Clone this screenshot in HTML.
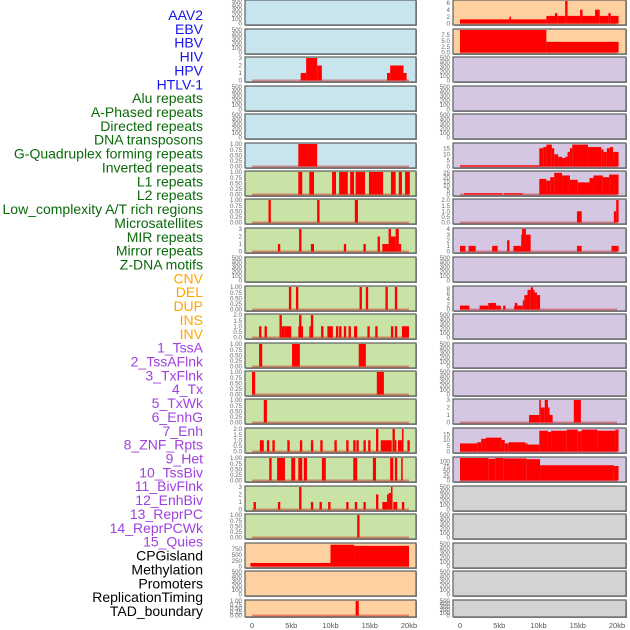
<!DOCTYPE html>
<html><head><meta charset="utf-8">
<style>
html,body{margin:0;padding:0;background:#fff;}
svg{display:block;font-family:"Liberation Sans",sans-serif;}
</style></head>
<body>
<svg id="chart" width="630" height="630" viewBox="0 0 630 630" xmlns="http://www.w3.org/2000/svg"></svg>
<script>
const labels = ["AAV2","EBV","HBV","HIV","HPV","HTLV-1","Alu repeats","A-Phased repeats","Directed repeats","DNA transposons","G-Quadruplex forming repeats","Inverted repeats","L1 repeats","L2 repeats","Low_complexity A/T rich regions","Microsatellites","MIR repeats","Mirror repeats","Z-DNA motifs","CNV","DEL","DUP","INS","INV","1_TssA","2_TssAFlnk","3_TxFlnk","4_Tx","5_TxWk","6_EnhG","7_Enh","8_ZNF_Rpts","9_Het","10_TssBiv","11_BivFlnk","12_EnhBiv","13_ReprPC","14_ReprPCWk","15_Quies","CPGisland","Methylation","Promoters","ReplicationTiming","TAD_boundary"];
const labelColors = [6,"#1515ee",13,"#0a6a0a",5,"#ffa500",15,"#a040e0",5,"#000"];
const xTicks = [0,5,10,15,20];
const xTickLabels = ["0","5kb","10kb","15kb","20kb"];
const panelTops = [0,29,57,86,114,143,171,199,228,257,286,314,343,371,399,428,457,486,514,543,571,600];
const leftBg = ["b","b","b","b","b","b","g","g","g","g","g","g","g","g","g","g","g","g","g","o","o","o"];
const rightBg = ["o","o","p","p","p","p","p","p","p","p","p","p","p","p","p","p","p","g2","g2","g2","g2","g2"];
const leftMax = [500,500,3,500,500,1,1,1,3,500,1,2,1,1,1,2,1,3,1,960,500,1];
const rightMax = [6.5,9.5,500,500,500,18.5,26,2,4,500,8.6,500,500,500,3,19.5,118,500,500,500,500,500];
const leftTicks = ["e","e",[0,1,2,3],"e","e","f","f","f",[0,1,2,3],"e","f","h","f","f","f","h","f",[0,1,2,3],"f",[0,250,500,750],"e","f"];
const rightTicks = [[0,2,4,6],[0,2.5,5,7.5],"e","e","e",[0,5,10,15],[0,5,10,15,20,25],"h",[0,1,2,3,4],"e",[0,2,4,6,8],"e","e","e",[0,1,2,3],[0,5,10,15],[0,25,50,75,100],"e","e","e","e","e"];
const leftSegs = [
 [],[],
 [[6.2,6.9,1],[6.9,8.3,3],[8.3,8.9,2],[17.2,17.6,1],[17.6,19.3,2],[19.3,19.7,1]],
 [],[],
 [[5.9,8.3,1]],
 [[5.9,6.4,1],[7.3,7.9,1],[10.2,10.7,1],[11.1,12.2,1],[12.5,13.0,1],[13.2,14.4,1],[14.9,16.7,1],[17.7,18.3,1],[18.7,19.1,1],[19.5,20.1,1]],
 [[2.1,2.4,1],[8.3,8.6,1],[13.1,13.5,1]],
 [[3.3,3.6,1],[6.0,6.3,3],[7.5,7.9,1],[11.7,12.0,1],[14.2,14.5,1],[16.0,16.3,2],[16.6,17.4,1],[17.4,17.7,3],[17.7,18.3,2],[18.3,18.7,3],[18.7,19.0,1]],
 [],
 [[4.7,5.0,1],[5.6,5.9,1],[13.7,14.0,1],[14.5,14.8,1],[17.0,17.3,1],[18.2,18.5,1]],
 [[0.9,1.2,1],[1.6,1.9,1],[3.5,3.8,2],[3.8,4.1,1],[4.1,5.0,1],[5.9,6.0,1],[6.0,6.3,2],[6.3,6.5,1],[7.3,7.5,1],[7.5,7.8,2],[8.8,9.1,1],[9.6,10.3,1],[10.7,11.0,1],[11.1,11.4,1],[11.7,12.0,1],[12.3,12.6,1],[13.0,13.4,1],[14.7,15.0,1],[15.7,16.0,1],[17.7,18.0,1],[18.2,18.5,1],[19.1,20.0,1]],
 [[0.9,1.3,1],[5.1,6.1,1],[13.6,14.5,1]],
 [[0,0.4,1],[15.9,16.8,1]],
 [[1.5,1.9,1]],
 [[1.0,1.5,1],[1.9,2.2,1],[2.6,2.9,1],[4.5,4.8,1],[6.1,6.4,1],[7.5,7.8,1],[8.7,9.0,1],[10.5,10.8,1],[12.0,12.3,1],[12.9,13.2,1],[13.3,13.6,1],[14.2,14.5,1],[14.8,15.1,1],[15.8,16.1,2],[16.4,17.8,1],[17.9,18.2,2],[18.2,18.4,1],[18.6,19.1,1],[19.1,19.3,2],[19.8,20.1,1]],
 [[2.2,2.5,1],[3.2,4.2,1],[5.0,5.5,1],[5.9,6.4,1],[6.6,7.0,1],[8.9,9.4,1],[12.9,13.4,1],[15.4,15.8,1],[17.6,18.0,1],[18.2,18.5,1],[19.0,19.2,1]],
 [[0.2,0.5,1],[3.3,3.6,1],[6.0,6.3,3],[7.5,7.8,1],[8.6,8.9,1],[9.7,10.0,1],[12.0,12.3,1],[13.1,13.4,1],[14.2,14.5,1],[15.8,16.1,2],[16.6,17.2,1],[17.2,17.4,2],[17.4,17.7,2.2],[17.7,17.9,3],[18.0,18.5,1],[19.1,19.4,1]],
 [[13.4,13.7,1]],
 [[-0.2,10,150],[10,13,930],[13,20,880]],
 [],
 [[13.2,13.6,1]]
];
const rightSegs = [
 [[0,6.3,1.2],[6.3,6.5,2],[6.5,11,1.2],[11,12.1,2.2],[12.1,12.4,3],[12.4,13.4,2.2],[13.4,13.7,6.5],[13.7,15.3,2.2],[15.3,15.6,4],[15.6,17.2,2.2],[17.2,17.8,4],[17.8,18.9,2.2],[18.9,19.2,3],[19.2,20.2,2.2]],
 [[0,11,9.5],[11,20.2,4.5]],
 [],[],[],
 [[0,10.1,1],[10.1,10.6,15],[10.6,11,16],[11,11.7,18],[11.7,12,15],[12,12.5,10],[12.5,13,8],[13,13.4,7],[13.4,13.7,8],[13.7,14,12],[14,14.3,15],[14.3,16.3,18],[16.3,18,16],[18,18.3,14],[18.3,18.7,12],[18.7,19.1,15],[19.1,19.5,16],[19.5,20.2,12]],
 [[0.5,5.4,1.5],[5.6,8.0,1.5],[10.1,11,18],[11,11.5,16],[11.5,12,20],[12,13,25],[13,14,22],[14,15,17],[15,16.5,14],[16.5,17,19],[17,18.2,22],[18.2,19,20],[19,20.2,23]],
 [[14.9,15.5,1],[19.6,19.9,1],[19.9,20.2,2]],
 [[0,0.7,1],[1.1,2.0,1],[4.1,4.8,1],[6.0,6.3,2],[6.8,7.8,1],[7.8,7.9,3],[7.9,8.4,4],[8.4,9.0,3],[14.9,15.5,1],[19.3,20.2,1]],
 [],
 [[0,1.2,1.5],[2.5,3.6,1.5],[3.6,4.6,2.5],[4.6,5.2,1.5],[5.5,5.8,1.5],[6.9,7.0,1.5],[7.0,7.3,2.5],[7.3,8.0,1.5],[8.0,8.2,3.5],[8.2,8.6,5.5],[8.6,9.0,7.5],[9.0,9.3,8.5],[9.3,9.5,7.5],[9.5,9.8,6.5],[9.8,10.2,5.5]],
 [],[],[],
 [[8.8,10.1,1],[10.1,10.3,3],[10.3,10.8,2],[10.8,11.2,3],[11.2,11.4,2],[11.4,11.8,1],[14.5,15.4,3]],
 [[0,2.2,7],[2.2,2.7,8],[2.7,3.3,11],[3.3,5.3,12],[5.3,5.7,10],[5.7,6.2,7],[6.2,8.3,8],[8.3,8.6,7],[8.6,10.1,6],[10.1,11.2,18],[11.2,11.6,17],[11.6,13.6,18],[13.6,15.0,19],[15.0,15.5,17.5],[15.5,17.5,19],[17.5,19.8,18],[19.8,20.2,19]],
 [[0,3.6,118],[3.6,4.5,114],[4.5,5.5,118],[5.5,8.5,116],[8.5,10.2,112],[10.2,19.6,80],[19.6,20.2,76]],
 [],[],[],[],[]
];
const NS="http://www.w3.org/2000/svg";
const svg=document.getElementById('chart');
const bgCol={b:"#c8e4ec",g:"#c9e2a5",o:"#ffd0a0",p:"#d5c6e2",g2:"#d3d3d3"};
function mk(t,a,p){const e=document.createElementNS(NS,t);for(const k in a)e.setAttribute(k,a[k]);(p||svg).appendChild(e);return e;}
// labels
let colIdx=[];for(let i=0;i<labelColors.length;i+=2){for(let j=0;j<labelColors[i];j++)colIdx.push(labelColors[i+1]);}
labels.forEach((t,i)=>{
 const e=mk('text',{x:203,y:15+i*13.86+5,'text-anchor':'end','font-size':14,fill:colIdx[i]});
 e.textContent=t;
 
 
});
function panel(side,i,x0,x1,bg,max,ticks,segs){
 const y0=panelTops[i], h=(i===panelTops.length-1)?17:25;
 const g=mk('g',{});
 
 
 mk('rect',{x:x0+1,y:y0+1,width:x1-x0,height:h,fill:'#999'},g);
 mk('rect',{x:x0,y:y0,width:x1-x0,height:h,fill:bgCol[bg],stroke:'#5a6060','stroke-width':1.2},g);
 const bot=y0+h-1.5, top=y0+1;
 const xs=kb=>(side==='left'?252:460)+kb*7.85;
 const ys=v=>bot-(v/max)*(bot-top);
 let tk=ticks;
 if(tk==='e')tk=[0,100,200,300,400,500];
 if(tk==='f')tk=[0,0.25,0.5,0.75,1];
 if(tk==='h')tk=[0,0.5,1,1.5,2];
 const fmt=ticks==='f'?(v=>v.toFixed(2)):(ticks==='h'||(ticks[1]===2.5)?(v=>v.toFixed(1)):(v=>String(v)));
 tk.forEach(v=>{
  const yy = ticks==='e' ? bot-(v/500)*(bot-top) : ys(v);
  const t=mk('text',{x:x0-3,y:yy+2.2,'text-anchor':'end','font-size':6.2,fill:'#666'},g);
  t.textContent=fmt(v);
 });
 if(segs.length){
  const bl=mk('line',{x1:xs(0),x2:xs(20),y1:bot,y2:bot,stroke:'rgba(200,30,30,0.45)','stroke-width':2},g);
  
  
 }
 segs.forEach(s=>{
  const a=Math.max(xs(s[0]),x0), b=Math.min(xs(s[1]),x1);
  const r=mk('rect',{x:a,y:ys(s[2]),width:Math.max(b-a,1.5),height:bot-ys(s[2]),fill:'#ff0000'},g);
  
  
 });
}
panelTops.forEach((_,i)=>{
 panel('left',i,245,416,leftBg[i],leftMax[i],leftTicks[i],leftSegs[i]);
 panel('right',i,453,626,rightBg[i],rightMax[i],rightTicks[i],rightSegs[i]);
});
['left','right'].forEach(side=>{
 xTicks.forEach((v,k)=>{
  const t=mk('text',{x:(side==='left'?252:460)+v*7.85,y:628,'text-anchor':'middle','font-size':7.5,fill:'#555'});
  t.textContent=xTickLabels[k];
  
  
 });
});
</script>
</body></html>
